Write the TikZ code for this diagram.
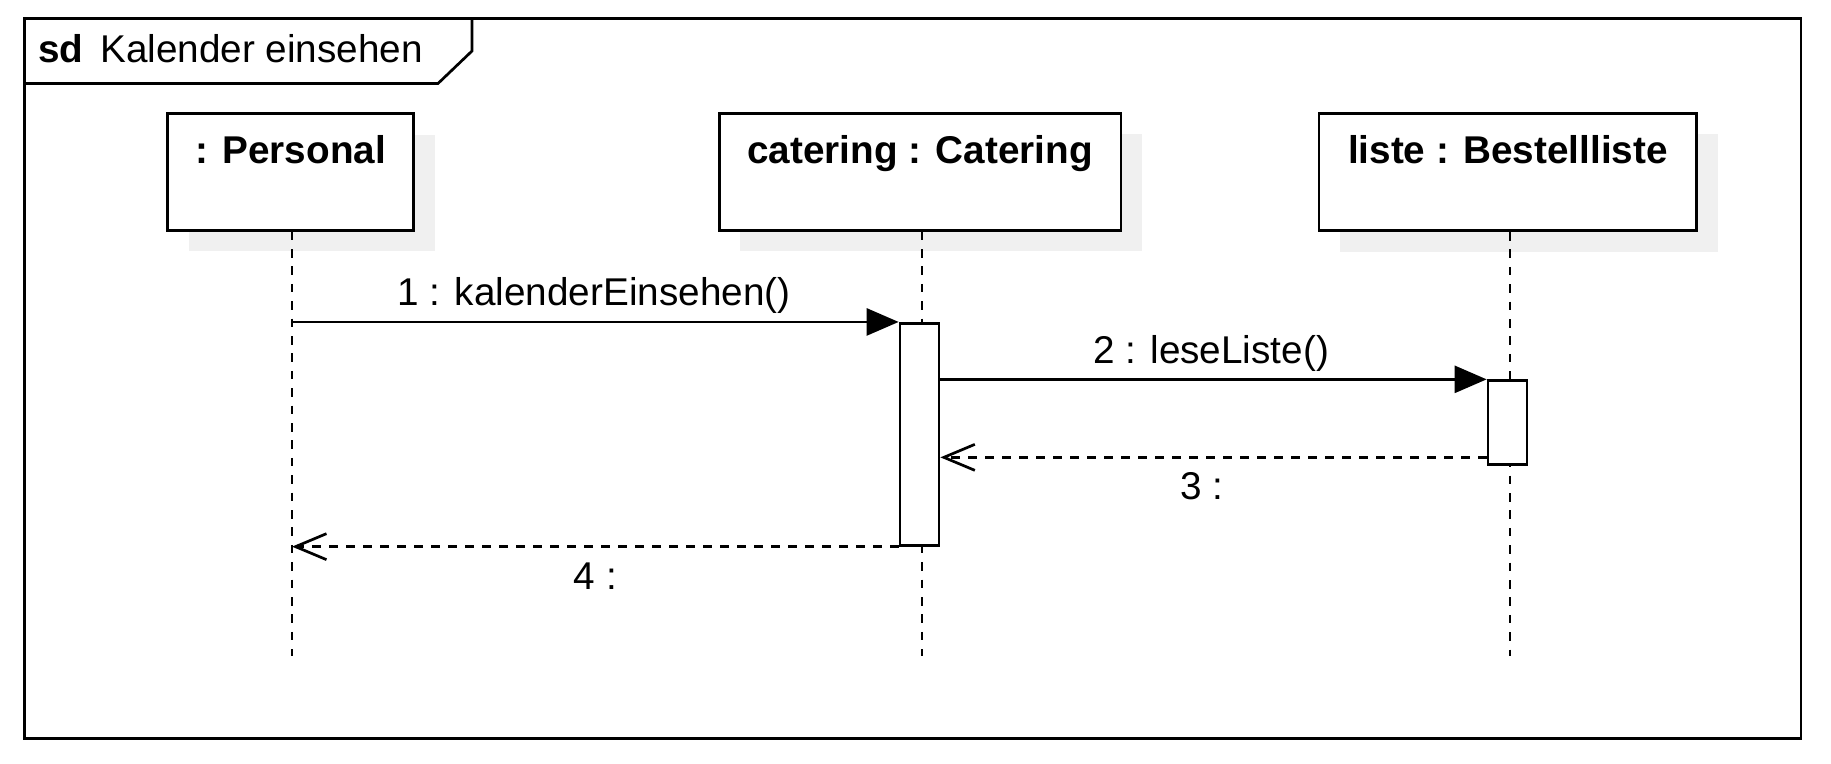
\documentclass[tikz,border=0pt]{standalone}
\usepackage{fontspec}
\setmainfont{Liberation Sans}
\usetikzlibrary{arrows.meta,shadows,calc}
\definecolor{shadowgray}{RGB}{240,240,240}
\begin{document}
\begin{tikzpicture}[x=1pt,y=-1pt,
  outline/.style={draw=black, line width=2.7pt},
  txt/.style={font=\fontsize{38.7}{46}\selectfont, inner sep=0pt},
  bftxt/.style={txt, font=\fontsize{38.7}{46}\selectfont\bfseries},
  objbox/.style={outline, fill=white, inner sep=0pt,
    general shadow={fill=shadowgray, shadow xshift=21pt, shadow yshift=-21pt}},
  actbox/.style={outline, fill=white, inner sep=0pt, minimum width=39pt},
  lifeline/.style={draw=black, line width=2.7pt, dash pattern=on 8.5pt off 8.9pt},
  call/.style={outline, -{Triangle[length=32pt, width=27pt]}},
  reply/.style={outline, dash pattern=on 8.5pt off 8.5pt,
    -{Straight Barb[length=31pt, width=26pt]}}]

\useasboundingbox (0,0) rectangle (1831,763);

% diagram frame with its name tab
\node[outline, inner sep=0pt, anchor=north west,
      minimum width=1776.5pt, minimum height=719.7pt] (frame) at (23,17.3) {};
\draw[outline, line join=miter] (23,83.5) -- (438,83.5) -- (472,51) -- (472,17.3);
\node[bftxt, anchor=base west] (sd) at (38,62.7) {sd};
\node[txt, anchor=base west] (name) at (100,62.7) {Kalender einsehen};

% lifeline ends
\coordinate (pEnd) at (292,656);
\coordinate (cEnd) at (922,656);
\coordinate (bEnd) at (1510,656);

% object heads
\node[objbox, minimum width=246pt, minimum height=116.5pt] (personal) at (290.7,172) {};
\node[objbox, minimum width=401.7pt, minimum height=117pt] (catering) at (920.2,171.8) {};
\node[objbox, minimum width=377.7pt, minimum height=117.4pt] (liste) at (1507.9,172) {};
\node[bftxt, anchor=base] (tPersonal) at (290.7,163.5) {: Personal};
\node[bftxt, anchor=base] (tCatering) at (920.2,163.5) {catering : Catering};
\node[bftxt, anchor=base] (tListe) at (1507.9,163.5) {liste : Bestellliste};

% lifelines
\draw[lifeline] (personal.south -| pEnd) -- (pEnd);
\draw[lifeline] (catering.south -| cEnd) -- (cEnd);
\draw[lifeline] (liste.south -| bEnd) -- (bEnd);

% activations
\node[actbox, minimum height=222pt] (act1) at (919.5,434.3) {};
\node[actbox, minimum height=83.6pt] (act2) at (1507.5,422.5) {};

% messages
\draw[call] (act1.north west -| pEnd) -- (act1.north west);
\draw[call] (act2.north west -| act1.east) -- (act2.north west);
\coordinate (r3) at ($(act2.south west)+(0,-8.3)$);
\draw[reply] (r3) -- (r3 -| act1.east);
\draw[reply] (act1.south west) -- (act1.south west -| pEnd);

% message labels
\node[txt, anchor=base] (l1) at (594,305) {1 : kalenderEinsehen()};
\node[txt, anchor=base] (l2) at (1211,363) {2 : leseListe()};
\node[txt, anchor=base] (l3) at (1202,499.5) {3 :};
\node[txt, anchor=base] (l4) at (595.5,589) {4 :};
\end{tikzpicture}
\end{document}
